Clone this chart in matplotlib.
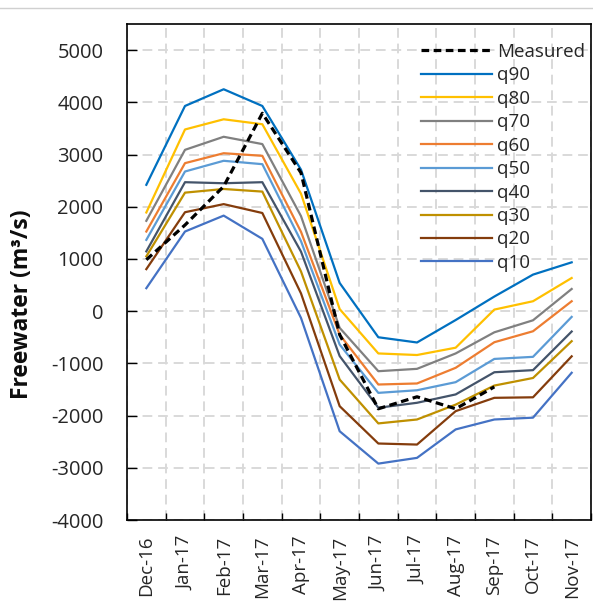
import matplotlib
matplotlib.use("Agg")
import matplotlib.pyplot as plt
import numpy as np
from matplotlib.lines import Line2D

months = ["Dec-16", "Jan-17", "Feb-17", "Mar-17", "Apr-17", "May-17",
          "Jun-17", "Jul-17", "Aug-17", "Sep-17", "Oct-17", "Nov-17"]

measured = [985, 1650, 2390, 3790, 2650, -450, -1870, -1640, -1870, -1450, np.nan, np.nan]
q90 = [2420, 3930, 4250, 3930, 2710, 540, -500, -600, -170, 280, 700, 935]
q80 = [1890, 3480, 3675, 3580, 2250, 40, -810, -840, -700, 30, 190, 635]
q70 = [1730, 3090, 3340, 3200, 1820, -320, -1150, -1105, -810, -405, -175, 425]
q60 = [1525, 2835, 3025, 2975, 1520, -450, -1405, -1385, -1085, -595, -385, 190]
q50 = [1365, 2675, 2880, 2815, 1340, -640, -1565, -1515, -1360, -915, -875, -110]
q40 = [1145, 2470, 2450, 2470, 1140, -860, -1850, -1755, -1595, -1170, -1130, -390]
q30 = [1050, 2270, 2340, 2290, 760, -1310, -2150, -2075, -1790, -1425, -1280, -575]
q20 = [805, 1895, 2050, 1880, 340, -1820, -2535, -2555, -1915, -1660, -1650, -865]
q10 = [440, 1525, 1830, 1385, -130, -2300, -2920, -2810, -2265, -2075, -2040, -1180]

series_names = ["q90", "q80", "q70", "q60", "q50", "q40", "q30", "q20", "q10"]
series_vals = [q90, q80, q70, q60, q50, q40, q30, q20, q10]
colors = ["#0070C0", "#FFC000", "#808080", "#ED7D31", "#5B9BD5",
          "#44546A", "#BF9000", "#843C0C", "#4472C4"]

yticks = [-4000, -3000, -2000, -1000, 0, 1000, 2000, 3000, 4000, 5000]

plt.rcParams['font.family'] = ['Open Sans', 'DejaVu Sans']

fig = plt.figure(figsize=(5.93, 6.07), dpi=100)
ax = fig.add_axes([127/593, 1-520/607, (591-127)/593, (520-24)/607])

x = np.arange(len(months))
handles = []
h, = ax.plot(x, measured, color="black", lw=2.3, linestyle=(0, (2.4, 1.4)),
             label="Measured", zorder=5, dash_capstyle='butt')
handles.append(h)
for name, vals, c in zip(series_names, series_vals, colors):
    h, = ax.plot(x, vals, color=c, lw=1.6, label=name, zorder=3)
    handles.append(h)

ax.set_xlim(-0.5, len(months) - 0.5)
ax.set_ylim(-4000, 5500)
ax.set_yticks(yticks)
ax.set_yticklabels([str(v) for v in yticks], fontsize=14.5, color="#262626")
ax.set_xticks(x)
ax.set_xticklabels(months, rotation=90, fontsize=13.5, color="#262626")
ax.tick_params(axis='x', which='major', length=0, pad=11)
ax.set_xticks(np.arange(-0.5, len(months)), minor=True)
ax.tick_params(axis='x', which='minor', direction='in', length=5, width=1)
ax.tick_params(axis='y', direction='in', length=7, width=1, pad=17)

ax.grid(True, axis='y', which='major', color="#D9D9D9", lw=1.4, linestyle=(0, (5, 3)))
ax.grid(True, axis='x', which='minor', color="#D9D9D9", lw=1.4, linestyle=(0, (5, 3)))
ax.grid(False, axis='x', which='major')
ax.set_axisbelow(True)
for s in ax.spines.values():
    s.set_color("black")
    s.set_linewidth(1.2)

ax.set_ylabel("Freewater (m³/s)", fontsize=16.5, fontweight='bold', color="#0D0D0D")
ax.yaxis.set_label_coords((34-127)/464, 0.434)

leg = ax.legend(handles=handles, loc='upper left', bbox_to_anchor=(421/593, 1-43/607),
                bbox_transform=fig.transFigure, frameon=False, fontsize=13.5,
                handlelength=3.8, handletextpad=0.25, labelspacing=0.29,
                borderaxespad=0, borderpad=0)
for t in leg.get_texts():
    t.set_color("#262626")

fig.add_artist(Line2D([0, 1], [1-8/607, 1-8/607], color="#D0D0D0", lw=1,
                      transform=fig.transFigure))

fig.savefig("out.png", dpi=100)
